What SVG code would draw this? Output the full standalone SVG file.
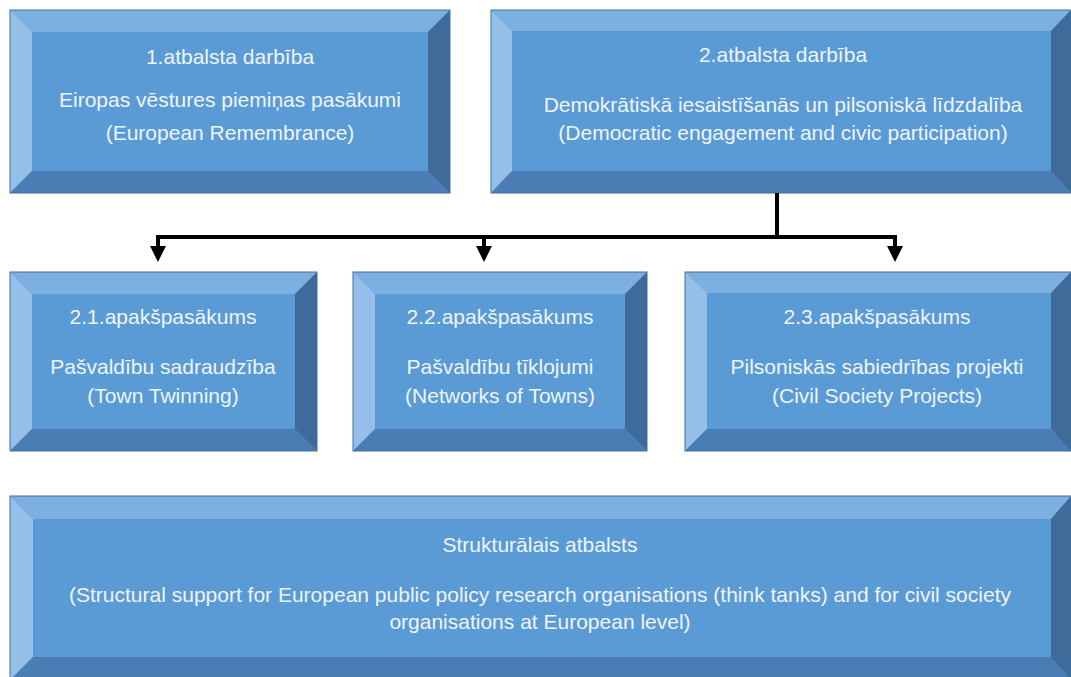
<svg xmlns="http://www.w3.org/2000/svg" width="1071" height="677" viewBox="0 0 1071 677">
<style>
.face{fill:#5b9bd5}
.top{fill:#7dafe0}
.left{fill:#95bfe8}
.bot{fill:#4a7db4}
.right{fill:#3e6b99}
.edge{fill:none;stroke:#41719c;stroke-width:1}
text{font-family:"Liberation Sans",Arial,sans-serif;font-size:21px;fill:#eef4fb;text-anchor:middle}
.conn{fill:none;stroke:#000;stroke-width:4}
</style>
<defs>
<marker id="arr" markerWidth="4" markerHeight="4" refX="3" refY="2" orient="auto" markerUnits="strokeWidth" viewBox="0 0 4 4">
<path d="M0,0 L4,2 L0,4 Z" fill="#000"/>
</marker>
</defs>
<rect width="1071" height="677" fill="#fff"/>

<g id="node1">
<rect class="face" x="10" y="10" width="440" height="183"/>
<polygon class="top" points="10,10 450,10 428,32 32,32"/>
<polygon class="left" points="10,10 32,32 32,171 10,193"/>
<polygon class="bot" points="10,193 32,171 428,171 450,193"/>
<polygon class="right" points="450,10 450,193 428,171 428,32"/>
<rect class="edge" x="10" y="10" width="440" height="183"/>
<text x="230" y="64">1.atbalsta darbība</text>
<text x="230" y="107">Eiropas vēstures piemiņas pasākumi</text>
<text x="230" y="140">(European Remembrance)</text>
</g>

<g id="node2">
<rect class="face" x="491" y="10" width="580" height="183"/>
<polygon class="top" points="491,10 1071,10 1051,31 512,31"/>
<polygon class="left" points="491,10 512,31 512,171 491,193"/>
<polygon class="bot" points="491,193 512,171 1051,171 1071,193"/>
<polygon class="right" points="1071,10 1071,193 1051,171 1051,31"/>
<rect class="edge" x="491" y="10" width="580" height="183"/>
<text x="783" y="62">2.atbalsta darbība</text>
<text x="783" y="112">Demokrātiskā iesaistīšanās un pilsoniskā līdzdalība</text>
<text x="783" y="140">(Democratic engagement and civic participation)</text>
</g>

<g id="node21">
<rect class="face" x="10" y="272" width="307" height="179"/>
<polygon class="top" points="10,272 317,272 295,294 32,294"/>
<polygon class="left" points="10,272 32,294 32,429 10,451"/>
<polygon class="bot" points="10,451 32,429 295,429 317,451"/>
<polygon class="right" points="317,272 317,451 295,429 295,294"/>
<rect class="edge" x="10" y="272" width="307" height="179"/>
<text x="163" y="324">2.1.apakšpasākums</text>
<text x="163" y="374">Pašvaldību sadraudzība</text>
<text x="163" y="403">(Town Twinning)</text>
</g>

<g id="node22">
<rect class="face" x="353" y="272" width="294" height="179"/>
<polygon class="top" points="353,272 647,272 625,294 375,294"/>
<polygon class="left" points="353,272 375,294 375,429 353,451"/>
<polygon class="bot" points="353,451 375,429 625,429 647,451"/>
<polygon class="right" points="647,272 647,451 625,429 625,294"/>
<rect class="edge" x="353" y="272" width="294" height="179"/>
<text x="500" y="324">2.2.apakšpasākums</text>
<text x="500" y="374">Pašvaldību tīklojumi</text>
<text x="500" y="403">(Networks of Towns)</text>
</g>

<g id="node23">
<rect class="face" x="685" y="272" width="386" height="179"/>
<polygon class="top" points="685,272 1071,272 1051,293 707,293"/>
<polygon class="left" points="685,272 707,293 707,429 685,451"/>
<polygon class="bot" points="685,451 707,429 1051,429 1071,451"/>
<polygon class="right" points="1071,272 1071,451 1051,429 1051,293"/>
<rect class="edge" x="685" y="272" width="386" height="179"/>
<text x="877" y="324">2.3.apakšpasākums</text>
<text x="877" y="374">Pilsoniskās sabiedrības projekti</text>
<text x="877" y="403">(Civil Society Projects)</text>
</g>

<g id="node3">
<rect class="face" x="10" y="496" width="1061" height="184"/>
<polygon class="top" points="10,496 1071,496 1051,519 33,519"/>
<polygon class="left" points="10,496 33,519 33,657 10,680"/>
<polygon class="bot" points="10,680 33,657 1051,657 1071,680"/>
<polygon class="right" points="1071,496 1071,680 1051,657 1051,519"/>
<rect class="edge" x="10" y="496" width="1061" height="184"/>
<text x="540" y="552">Strukturālais atbalsts</text>
<text x="540" y="602">(Structural support for European public policy research organisations (think tanks) and for civil society</text>
<text x="540" y="629">organisations at European level)</text>
</g>

<g id="connectors">
<polyline class="conn" points="777,193 777,237 158,237 158,258" marker-end="url(#arr)"/>
<polyline class="conn" points="777,237 484,237 484,258" marker-end="url(#arr)"/>
<polyline class="conn" points="777,237 895,237 895,258" marker-end="url(#arr)"/>
</g>
</svg>
